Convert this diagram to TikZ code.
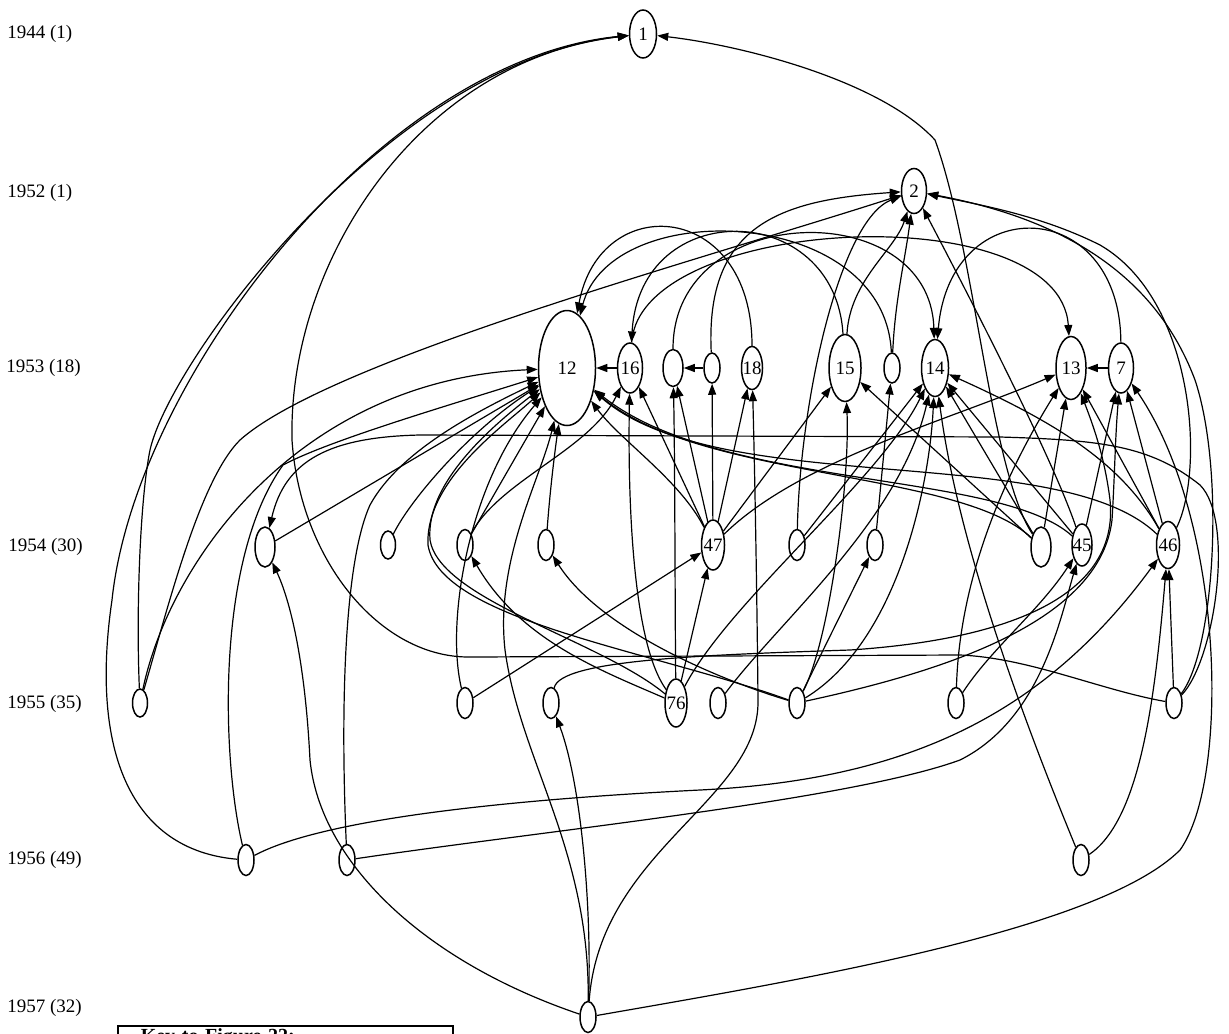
\documentclass[tikz,border=0pt]{standalone}
\usepackage{fontspec}
\setmainfont{Liberation Serif}
\usetikzlibrary{shapes.geometric, arrows.meta}

\begin{document}
\begin{tikzpicture}[
        x=0.5pt, y=-0.5pt,
        every node/.style={font=\fontsize{9.5}{11}\selectfont},
        paper/.style={draw=black, ellipse, inner sep=0pt, line width=0.75pt},
        sz/.style 2 args={minimum width=#1*0.5pt, minimum height=#2*0.5pt},
        dot/.style={paper, sz={16}{31}},
        num/.style={label={center:#1}},
        year/.style={anchor=west, inner sep=0pt},
        cite/.style={-{Triangle[length=5.5pt, width=4pt]}, line width=0.6pt}
    ]
        \useasboundingbox (0,0) rectangle (1229,1033);

        % years
        \node[year] (y44) at (7,34)   {1944 (1)};
        \node[year] (y52) at (7,193)  {1952 (1)};
        \node[year] (y53) at (6,368)  {1953 (18)};
        \node[year] (y54) at (8,547)  {1954 (30)};
        \node[year] (y55) at (7,704)  {1955 (35)};
        \node[year] (y56) at (7,860)  {1956 (49)};
        \node[year] (y57) at (7,1008) {1957 (32)};

        % papers
        \node[paper, sz={27}{48}, num=1] (p1) at (643,34) {};
        \node[paper, sz={25}{45}, num=2] (p2) at (914,191) {};

        \node[paper, sz={57}{115}, num=12] (p12) at (567,368) {};
        \node[paper, sz={25}{50}, num=16] (p16) at (630,368) {};
        \node[paper, sz={20}{37}] (pa) at (673,368) {};
        \node[paper, sz={16}{30}] (pb) at (712,368) {};
        \node[paper, sz={21}{43}, num=18] (p18) at (752,368) {};
        \node[paper, sz={32}{67}, num=15] (p15) at (845,368) {};
        \node[paper, sz={16}{30}] (pc) at (892,368) {};
        \node[paper, sz={27}{57}, num=14] (p14) at (935,368) {};
        \node[paper, sz={30}{63}, num=13] (p13) at (1071,368) {};
        \node[paper, sz={25}{50}, num=7] (p7) at (1121,368) {};

        \node[paper, sz={20}{40}] (q1) at (265,547) {};
        \node[paper, sz={15}{28}] (q2) at (388,545) {};
        \node[dot] (q3) at (465,545) {};
        \node[dot] (q4) at (546,545) {};
        \node[paper, sz={23}{50}, num=47] (p47) at (713,545) {};
        \node[dot] (q5) at (797,545) {};
        \node[dot] (q6) at (875,545) {};
        \node[paper, sz={20}{40}] (q7) at (1041,547) {};
        \node[paper, sz={20}{42}, num=45] (p45) at (1082,545) {};
        \node[paper, sz={23}{47}, num=46] (p46) at (1168,545) {};

        \node[paper, sz={15}{28}] (r1) at (140,703) {};
        \node[dot] (r2) at (465,703) {};
        \node[dot] (r3) at (551,703) {};
        \node[paper, sz={22}{48}, num=76] (p76) at (676,703) {};
        \node[dot] (r4) at (718,703) {};
        \node[dot] (r5) at (797,703) {};
        \node[dot] (r6) at (956,703) {};
        \node[dot] (r7) at (1174,703) {};

        \node[dot] (s1) at (246,860) {};
        \node[dot] (s2) at (347,860) {};
        \node[dot] (s3) at (1081,860) {};

        \node[dot] (t1) at (588,1017) {};

        \node[draw=black, line width=0.75pt, anchor=north west, text width=144.5pt, inner xsep=11.5pt,
              inner ysep=1.5pt, align=left, text depth=60pt, font=\bfseries\fontsize{10}{12}\selectfont]
              (key) at (117,1025) {Key to Figure 22:};

        % into 1
        \draw[cite] (s1) .. controls (130,850) and (90,750) .. (112,600) .. controls (135,380) and (380,60) .. (p1);
        \draw[cite] (r1) .. controls (136,610) and (140,500) .. (150,450) .. controls (170,360) and (390,62) .. (p1);
        \draw[cite] (r7) .. controls (1100,690) and (1030,658) .. (960,655) -- (470,657) .. controls (380,658) and (300,560) .. (292,440) .. controls (288,260) and (420,60) .. (p1);
        \draw[cite] (q7) .. controls (990,470) and (975,250) .. (935,140) .. controls (880,80) and (740,45) .. (p1);

        % into 2
        \draw[cite] (r1) .. controls (170,600) and (200,480) .. (240,440) .. controls (330,360) and (700,260) .. (p2);
        \draw[cite] (p15) .. controls (850,280) and (895,250) .. (p2);
        \draw[cite] (pc) .. controls (895,300) and (905,260) .. (p2);
        \draw[cite] (q5) .. controls (800,400) and (840,220) .. (p2);
        \draw[cite] (pb) .. controls (705,225) and (780,200) .. (p2);
        \draw[cite] (p45) .. controls (1050,450) and (950,260) .. (p2);
        \draw[cite] (r7) .. controls (1215,650) and (1225,470) .. (1195,380) .. controls (1150,260) and (1040,215) .. (p2);
        \draw[cite] (p46) .. controls (1205,470) and (1195,300) .. (1100,245) .. controls (1040,215) and (980,205) .. (p2);

        % 1953 among themselves
        \draw[cite] (p16) -- (p12);
        \draw[cite] (pb) -- (pa);
        \draw[cite] (p7) -- (p13);
        \draw[cite] (p18) .. controls (752,200) and (600,190) .. (p12);
        \draw[cite] (pc) .. controls (885,205) and (610,195) .. (p12);
        \draw[cite] (p15) .. controls (835,200) and (640,195) .. (p16);
        \draw[cite] (pa) .. controls (673,200) and (930,195) .. (p14);
        \draw[cite] (p7) .. controls (1120,195) and (950,190) .. (p14);
        \draw[cite] (p16) .. controls (640,215) and (1060,195) .. (p13);

        % into 12
        \draw[cite] (q1) -- (p12);
        \draw[cite] (r1) .. controls (170,560) and (300,380) .. (p12);
        \draw[cite] (s1) .. controls (222,760) and (215,560) .. (283,465) .. controls (330,440) and (450,405) .. (p12);
        \draw[cite] (s2) .. controls (340,700) and (345,560) .. (370,505) .. controls (400,450) and (480,410) .. (p12);
        \draw[cite] (q2) .. controls (410,500) and (470,430) .. (p12);
        \draw[cite] (q3) -- (p12);
        \draw[cite] (q4) .. controls (550,490) and (555,450) .. (p12);
        \draw[cite] (r2) .. controls (445,620) and (470,480) .. (p12);
        \draw[cite] (p76) .. controls (600,640) and (440,600) .. (430,540) .. controls (425,480) and (500,420) .. (p12);
        \draw[cite] (r5) .. controls (650,650) and (440,620) .. (428,545) .. controls (425,480) and (505,425) .. (p12);
        \draw[cite] (t1) .. controls (590,850) and (520,760) .. (505,650) .. controls (495,560) and (540,480) .. (p12);
        \draw[cite] (p47) .. controls (680,480) and (620,440) .. (p12);
        \draw[cite] (q7) .. controls (960,470) and (700,480) .. (p12);
        \draw[cite] (p45) .. controls (1000,470) and (720,490) .. (p12);
        \draw[cite] (p46) .. controls (1060,440) and (720,500) .. (p12);

        % into 16, a, b, 18
        \draw[cite] (q3) .. controls (500,480) and (590,450) .. (p16);
        \draw[cite] (p76) .. controls (630,640) and (628,480) .. (p16);
        \draw[cite] (p47) -- (p16);
        \draw[cite] (p76) .. controls (675,620) and (675,460) .. (pa);
        \draw[cite] (p47) -- (pa);
        \draw[cite] (p47) -- (pb);
        \draw[cite] (p47) -- (p18);
        \draw[cite] (t1) .. controls (600,850) and (760,800) .. (758,700) .. controls (757,600) and (755,480) .. (p18);

        % into 15, c, 14
        \draw[cite] (p47) -- (p15);
        \draw[cite] (r5) .. controls (830,640) and (850,480) .. (p15);
        \draw[cite] (q7) -- (p15);
        \draw[cite] (q6) -- (pc);
        \draw[cite] (q5) -- (p14);
        \draw[cite] (r5) .. controls (900,640) and (930,480) .. (p14);
        \draw[cite] (q7) -- (p14);
        \draw[cite] (p45) -- (p14);
        \draw[cite] (p46) .. controls (1120,460) and (1050,420) .. (p14);
        \draw[cite] (s3) .. controls (1040,760) and (960,560) .. (p14);
        \draw[cite] (r4) .. controls (780,620) and (900,520) .. (p14);
        \draw[cite] (p76) .. controls (730,600) and (880,480) .. (p14);

        % into 13, 7
        \draw[cite] (p47) .. controls (800,460) and (950,420) .. (p13);
        \draw[cite] (q7) -- (p13);
        \draw[cite] (p46) -- (p13);
        \draw[cite] (r6) .. controls (960,560) and (1020,450) .. (p13);
        \draw[cite] (r3) .. controls (560,660) and (700,655) .. (850,650) .. controls (1000,640) and (1120,600) .. (1110,500) .. controls (1105,460) and (1095,430) .. (p13);
        \draw[cite] (p45) -- (p7);
        \draw[cite] (p46) -- (p7);
        \draw[cite] (t1) .. controls (800,980) and (1100,930) .. (1180,850) .. controls (1230,780) and (1225,520) .. (p7);
        \draw[cite] (r5) .. controls (950,670) and (1100,620) .. (1112,520) .. controls (1115,470) and (1115,440) .. (p7);

        % into 1954 and 1955
        \draw[cite] (r2) -- (p47);
        \draw[cite] (p76) -- (p47);
        \draw[cite] (r7) .. controls (1215,660) and (1235,520) .. (1200,485) .. controls (1150,445) and (1100,440) .. (1000,437) -- (420,435) .. controls (330,437) and (285,460) .. (q1);
        \draw[cite] (t1) .. controls (420,960) and (320,860) .. (310,760) .. controls (305,660) and (290,600) .. (q1);
        \draw[cite] (p76) .. controls (600,670) and (520,640) .. (q3);
        \draw[cite] (r5) .. controls (720,680) and (600,630) .. (q4);
        \draw[cite] (t1) .. controls (592,900) and (580,780) .. (r3);
        \draw[cite] (r5) -- (q6);
        \draw[cite] (r6) .. controls (990,650) and (1040,610) .. (p45);
        \draw[cite] (s2) .. controls (550,830) and (850,800) .. (960,760) .. controls (1040,720) and (1060,620) .. (p45);
        \draw[cite] (r7) -- (p46);
        \draw[cite] (s3) .. controls (1140,820) and (1155,700) .. (p46);
        \draw[cite] (s1) .. controls (320,820) and (500,800) .. (700,790) .. controls (900,780) and (1040,720) .. (p46);
    \end{tikzpicture}
\end{document}
